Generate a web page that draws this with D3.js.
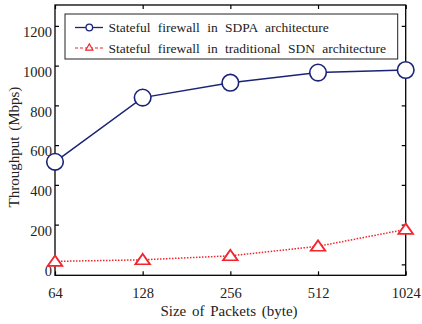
<!DOCTYPE html>
<html>
<head>
<meta charset="utf-8">
<script src="https://cdn.jsdelivr.net/npm/d3@7"></script>
<style>
  body { margin: 0; background: #fff; }
</style>
</head>
<body>
<div id="chart"></div>
<script>
// data
var packetSizes = [64, 128, 256, 512, 1024];
var sdpaThroughput = [516, 839, 914, 965, 978];
var sdnThroughput = [15, 23, 43, 91, 176];
var yTicks = [0, 200, 400, 600, 800, 1000, 1200];
var seriesNames = ['Stateful firewall in SDPA architecture', 'Stateful firewall in traditional SDN architecture'];

var W = 422, H = 324;
// plot box (note: "top" is a window global, so use other names)
var pl = 55, pr = 405.7, pt = 5, pb = 275.3;
var FONT = '"Liberation Serif"';

var svg = d3.select('#chart').append('svg').attr('width', W).attr('height', H);

var x = d3.scalePoint().domain(packetSizes).range([pl, pr]);
var y = d3.scaleLinear().domain([-55, 1305]).range([pb, pt]);

var blue = '#1b2375', red = '#f2242c';

// frame
svg.append('rect')
  .attr('x', pl).attr('y', pt)
  .attr('width', pr - pl).attr('height', pb - pt)
  .attr('fill', 'none').attr('stroke', '#000').attr('stroke-width', 1.3);

// axes with inward ticks
var yAxisL = svg.append('g').attr('transform', `translate(${pl},0)`)
  .call(d3.axisLeft(y).tickValues(yTicks).tickFormat(d3.format('d')).tickSize(-4).tickPadding(8));
var yAxisR = svg.append('g').attr('transform', `translate(${pr},0)`)
  .call(d3.axisRight(y).tickValues(yTicks).tickSize(-4).tickFormat(''));
var xAxisB = svg.append('g').attr('transform', `translate(0,${pb})`)
  .call(d3.axisBottom(x).tickSize(-4).tickPadding(10));
var xAxisT = svg.append('g').attr('transform', `translate(0,${pt})`)
  .call(d3.axisTop(x).tickSize(-4).tickFormat(''));

[yAxisL, yAxisR, xAxisB, xAxisT].forEach(function(g){
  g.attr('font-family', FONT).attr('font-size', 14.5);
  g.select('.domain').remove();
  g.selectAll('line').attr('stroke', '#000').attr('stroke-width', 1.2);
  g.selectAll('text').attr('fill', '#222')
    .style('font-family', FONT).style('font-size', '14.5px');
});
// labels in the picture sit a bit below their ticks
yAxisL.selectAll('text').attr('dy', '0.75em').attr('x', -3);
xAxisB.selectAll('text').attr('dy', '0.85em');

// axis titles
svg.append('text')
  .attr('transform', 'translate(19,147) rotate(-90)')
  .attr('text-anchor', 'middle').attr('fill', '#222')
  .style('font-family', FONT).style('font-size', '15px')
  .style('word-spacing', '2px')
  .text('Throughput  (Mbps)');
svg.append('text')
  .attr('x', 229).attr('y', 316)
  .attr('text-anchor', 'middle').attr('fill', '#222')
  .style('font-family', FONT).style('font-size', '15px')
  .style('word-spacing', '2px')
  .text('Size of Packets (byte)');

// lines
var line = d3.line().x(function(d, i){ return x(packetSizes[i]); }).y(function(d){ return y(d); });

svg.append('path').datum(sdnThroughput)
  .attr('d', line).attr('fill', 'none')
  .attr('stroke', red).attr('stroke-width', 1.5).attr('stroke-dasharray', '1.5,1.5');
svg.append('path').datum(sdpaThroughput)
  .attr('d', line).attr('fill', 'none')
  .attr('stroke', blue).attr('stroke-width', 1.5);

var tri = d3.symbol().type(d3.symbolTriangle).size(62);

svg.selectAll('.tri').data(sdnThroughput).enter().append('path')
  .attr('class', 'tri')
  .attr('transform', function(d, i){ return `translate(${x(packetSizes[i])},${y(d) + 1}) scale(1.22,1)`; })
  .attr('d', tri).attr('fill', '#fff')
  .attr('stroke', red).attr('stroke-width', 1.6);

svg.selectAll('.circ').data(sdpaThroughput).enter().append('circle')
  .attr('class', 'circ')
  .attr('cx', function(d, i){ return x(packetSizes[i]); })
  .attr('cy', function(d){ return y(d); })
  .attr('r', 8.3).attr('fill', '#fff')
  .attr('stroke', blue).attr('stroke-width', 1.6);

// legend
var lg = svg.append('g');
lg.append('rect')
  .attr('x', 65).attr('y', 14).attr('width', 332.7).attr('height', 45)
  .attr('fill', '#fff').attr('stroke', '#222').attr('stroke-width', 1);

var rows = [27.5, 48];
lg.append('line').attr('x1', 75).attr('x2', 103).attr('y1', rows[0]).attr('y2', rows[0])
  .attr('stroke', blue).attr('stroke-width', 1.3);
lg.append('circle').attr('cx', 89.3).attr('cy', rows[0]).attr('r', 3.3)
  .attr('fill', '#fff').attr('stroke', blue).attr('stroke-width', 1.3);
lg.append('line').attr('x1', 75).attr('x2', 103).attr('y1', rows[1]).attr('y2', rows[1])
  .attr('stroke', red).attr('stroke-width', 1.2).attr('stroke-dasharray', '3,2');
lg.append('path').attr('transform', `translate(89.3,${rows[1]})`)
  .attr('d', d3.symbol().type(d3.symbolTriangle).size(22)).attr('fill', '#fff')
  .attr('stroke', red).attr('stroke-width', 1.2);

lg.selectAll('.lt').data(seriesNames).enter().append('text')
  .attr('class', 'lt')
  .attr('x', 108.5).attr('y', function(d, i){ return rows[i] + 4.5; })
  .attr('fill', '#222')
  .style('font-family', FONT).style('font-size', '13.5px')
  .style('word-spacing', '4px')
  .text(function(d){ return d; });
</script>
</body>
</html>
